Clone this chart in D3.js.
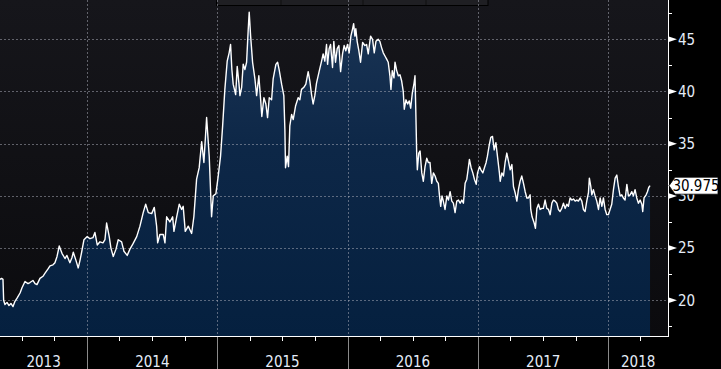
<!DOCTYPE html>
<meta charset="utf-8">
<style>
html, body { margin: 0; padding: 0; background: #000; }
#chart { display: block; }
text { font-family: "Liberation Sans Narrow", "Arial Narrow", "DejaVu Sans Condensed", sans-serif; }
</style>
<svg id="chart" width="721" height="369"></svg>
<script src="https://d3js.org/d3.v7.min.js"></script>
<script>
// ********** DATA **********
// [decimal year, price]
var priceSeries = [
  [2013.330,22.0],[2013.342,22.1],[2013.353,22.0],[2013.358,20.0],[2013.368,19.6],[2013.384,19.8],
  [2013.399,19.5],[2013.414,19.7],[2013.430,19.4],[2013.445,19.9],[2013.461,20.2],[2013.484,20.7],
  [2013.499,21.2],[2013.522,21.8],[2013.545,21.6],[2013.560,21.7],[2013.583,21.9],[2013.599,21.6],
  [2013.614,21.5],[2013.637,22.1],[2013.660,22.3],[2013.676,22.6],[2013.699,23.0],[2013.714,23.3],
  [2013.737,23.4],[2013.752,23.6],[2013.768,24.2],[2013.785,25.2],[2013.806,24.5],[2013.829,24.0],
  [2013.844,24.3],[2013.867,23.6],[2013.883,24.1],[2013.893,24.6],[2013.914,23.8],[2013.931,23.1],
  [2013.944,23.8],[2013.957,24.6],[2013.975,25.8],[2014.000,26.1],[2014.021,25.9],[2014.044,26.0],
  [2014.059,26.5],[2014.077,25.3],[2014.098,25.6],[2014.121,25.5],[2014.136,25.8],[2014.149,27.4],
  [2014.169,26.1],[2014.182,25.0],[2014.200,24.2],[2014.221,24.9],[2014.238,25.8],[2014.264,25.6],
  [2014.282,24.7],[2014.307,24.3],[2014.328,24.9],[2014.351,25.4],[2014.380,26.1],[2014.405,27.1],
  [2014.430,28.4],[2014.449,29.2],[2014.469,28.4],[2014.495,28.3],[2014.515,28.9],[2014.533,27.1],
  [2014.541,25.5],[2014.558,26.3],[2014.584,26.3],[2014.597,25.5],[2014.610,28.0],[2014.635,27.5],
  [2014.656,28.0],[2014.666,26.6],[2014.687,28.0],[2014.707,29.2],[2014.725,28.7],[2014.737,29.0],
  [2014.753,26.6],[2014.776,27.1],[2014.802,26.4],[2014.819,28.0],[2014.840,31.6],[2014.860,32.7],
  [2014.879,35.2],[2014.896,33.2],[2014.917,37.5],[2014.937,33.8],[2014.955,28.0],[2014.968,30.0],
  [2014.988,30.2],[2015.006,31.9],[2015.024,33.8],[2015.040,36.7],[2015.057,40.2],[2015.075,42.9],
  [2015.090,43.7],[2015.101,44.5],[2015.111,42.1],[2015.121,40.7],[2015.140,39.7],[2015.152,42.4],
  [2015.165,40.8],[2015.173,39.6],[2015.186,40.4],[2015.198,42.6],[2015.211,42.1],[2015.224,42.8],
  [2015.236,45.8],[2015.244,47.6],[2015.255,45.3],[2015.270,42.8],[2015.288,41.2],[2015.301,39.6],
  [2015.318,41.5],[2015.332,39.2],[2015.341,37.6],[2015.357,39.4],[2015.372,38.8],[2015.385,37.5],
  [2015.398,39.4],[2015.416,39.2],[2015.428,41.2],[2015.449,42.6],[2015.462,42.8],[2015.474,42.1],
  [2015.493,40.7],[2015.510,39.6],[2015.518,36.4],[2015.523,32.7],[2015.536,33.8],[2015.546,32.8],
  [2015.556,36.7],[2015.570,37.8],[2015.582,37.3],[2015.600,38.6],[2015.620,39.4],[2015.633,39.2],
  [2015.646,40.2],[2015.664,40.4],[2015.679,40.7],[2015.697,41.9],[2015.710,41.0],[2015.723,39.7],
  [2015.735,38.8],[2015.748,39.6],[2015.761,40.8],[2015.781,41.9],[2015.800,42.9],[2015.812,43.6],
  [2015.825,42.9],[2015.838,44.5],[2015.846,42.6],[2015.858,44.1],[2015.869,44.5],[2015.884,42.3],
  [2015.894,44.8],[2015.907,42.8],[2015.920,44.1],[2015.933,44.4],[2015.946,41.9],[2015.961,43.6],
  [2015.973,44.4],[2015.986,43.9],[2015.999,44.5],[2016.012,43.7],[2016.025,45.3],[2016.038,46.0],
  [2016.046,46.5],[2016.056,45.3],[2016.063,46.0],[2016.073,44.8],[2016.086,43.9],[2016.099,42.8],
  [2016.115,44.7],[2016.132,44.4],[2016.145,44.5],[2016.158,43.6],[2016.176,45.3],[2016.191,45.0],
  [2016.204,43.7],[2016.217,44.8],[2016.234,45.0],[2016.247,44.8],[2016.260,44.2],[2016.273,43.7],
  [2016.286,43.4],[2016.299,43.1],[2016.311,42.8],[2016.324,41.5],[2016.332,40.2],[2016.342,42.0],
  [2016.355,41.3],[2016.363,42.8],[2016.376,42.0],[2016.388,41.5],[2016.401,41.6],[2016.414,41.0],
  [2016.426,40.0],[2016.434,38.3],[2016.447,39.2],[2016.460,38.8],[2016.472,39.1],[2016.483,38.4],
  [2016.496,39.9],[2016.509,40.8],[2016.516,41.5],[2016.522,38.3],[2016.529,34.1],[2016.534,32.5],
  [2016.545,34.1],[2016.555,34.3],[2016.568,32.2],[2016.580,31.4],[2016.593,32.8],[2016.606,33.6],
  [2016.618,33.2],[2016.631,33.2],[2016.644,31.2],[2016.657,32.2],[2016.670,31.9],[2016.683,31.4],
  [2016.695,31.2],[2016.703,30.1],[2016.713,29.0],[2016.723,30.0],[2016.733,29.5],[2016.746,28.7],
  [2016.760,30.0],[2016.772,29.6],[2016.785,30.4],[2016.798,29.5],[2016.810,29.3],[2016.823,28.4],
  [2016.836,29.5],[2016.849,29.6],[2016.862,29.3],[2016.875,29.6],[2016.887,29.3],[2016.900,31.2],
  [2016.913,31.6],[2016.925,32.7],[2016.933,33.5],[2016.946,32.7],[2016.959,32.2],[2016.971,31.6],
  [2016.985,31.1],[2016.995,32.2],[2017.010,32.8],[2017.021,32.5],[2017.036,32.2],[2017.048,32.7],
  [2017.061,33.2],[2017.071,33.8],[2017.084,34.8],[2017.097,35.6],[2017.110,35.7],[2017.123,34.4],
  [2017.136,35.1],[2017.148,33.8],[2017.163,32.2],[2017.169,31.4],[2017.182,32.2],[2017.194,31.9],
  [2017.207,33.2],[2017.220,34.1],[2017.233,33.3],[2017.246,32.5],[2017.259,33.0],[2017.271,30.9],
  [2017.284,30.3],[2017.297,29.5],[2017.309,30.6],[2017.322,31.4],[2017.335,31.9],[2017.348,31.2],
  [2017.361,30.4],[2017.374,29.8],[2017.386,29.8],[2017.399,30.1],[2017.404,28.7],[2017.414,28.0],
  [2017.430,27.4],[2017.440,26.9],[2017.451,28.8],[2017.463,29.2],[2017.476,28.7],[2017.489,28.8],
  [2017.501,28.8],[2017.514,29.6],[2017.527,28.8],[2017.540,28.7],[2017.553,28.2],[2017.566,29.3],
  [2017.578,29.6],[2017.591,29.5],[2017.604,29.3],[2017.616,28.7],[2017.629,28.5],[2017.642,28.8],
  [2017.655,29.3],[2017.668,28.8],[2017.681,29.2],[2017.693,29.0],[2017.706,29.8],[2017.719,29.6],
  [2017.732,29.7],[2017.745,29.5],[2017.758,29.6],[2017.770,29.5],[2017.783,29.8],[2017.796,29.5],
  [2017.808,28.7],[2017.821,28.5],[2017.834,29.5],[2017.847,30.3],[2017.854,31.7],[2017.865,30.9],
  [2017.873,30.1],[2017.885,30.6],[2017.898,30.0],[2017.911,29.5],[2017.924,28.7],[2017.937,29.8],
  [2017.950,29.0],[2017.962,29.8],[2017.975,28.7],[2017.988,28.2],[2018.000,28.2],[2018.013,28.7],
  [2018.026,29.2],[2018.039,30.6],[2018.052,31.7],[2018.065,32.0],[2018.077,30.9],[2018.090,30.0],
  [2018.103,30.1],[2018.115,29.8],[2018.128,29.6],[2018.142,31.1],[2018.154,30.0],[2018.167,30.1],
  [2018.180,30.4],[2018.192,30.0],[2018.205,30.6],[2018.218,29.8],[2018.231,29.3],[2018.244,29.6],
  [2018.257,29.2],[2018.264,28.5],[2018.274,29.8],[2018.290,30.1],[2018.300,30.4],[2018.310,30.8],
  [2018.320,30.975]
];
var xDomain = [2013.330, 2018.458];   // visible time window
var yDomain = [16.58, 48.76];
var yTicks = [20, 25, 30, 35, 40, 45];
var yMinorTicks = [17.5, 22.5, 27.5, 32.5, 37.5, 42.5, 47.5];
var yearLabels = ["2013", "2014", "2015", "2016", "2017", "2018"];
var lastPrice = 30.975;

// ********** LAYOUT **********
var W = 721, H = 369,
  plotW = 668,   // right axis position
  plotH = 336;   // bottom axis position

function toDate(t) {
  var yr = Math.floor(t),
    a = Date.UTC(yr, 0, 1), b = Date.UTC(yr + 1, 0, 1);
  return new Date(a + (t - yr) * (b - a));
}

var x = d3.scaleUtc().domain(xDomain.map(toDate)).range([0, plotW]);
var y = d3.scaleLinear().domain(yDomain).range([plotH, 0]);

var svg = d3.select("#chart");
var defs = svg.append("defs");

var bgGrad = defs.append("linearGradient").attr("id", "bg")
  .attr("x1", 0).attr("y1", 0).attr("x2", 0).attr("y2", 1);
bgGrad.append("stop").attr("offset", "0%").attr("stop-color", "#16161b");
bgGrad.append("stop").attr("offset", "100%").attr("stop-color", "#0b0b0e");

var areaGrad = defs.append("linearGradient").attr("id", "areaFill")
  .attr("gradientUnits", "userSpaceOnUse")
  .attr("x1", 0).attr("y1", 0).attr("x2", 0).attr("y2", plotH);
areaGrad.append("stop").attr("offset", "0%").attr("stop-color", "#1b3556");
areaGrad.append("stop").attr("offset", "45%").attr("stop-color", "#0d2747");
areaGrad.append("stop").attr("offset", "100%").attr("stop-color", "#05203f");

svg.append("rect").attr("width", W).attr("height", H).attr("fill", "#000");
svg.append("rect").attr("width", plotW).attr("height", plotH).attr("fill", "url(#bg)");

// toolbar remnant at top
var bar = svg.append("g");
bar.append("rect").attr("x", 216.5).attr("y", -2).attr("width", 271.5).attr("height", 7.5)
  .attr("fill", "#1f1f23").attr("stroke", "#000");
[281, 363, 426].forEach(function (bx) {
  bar.append("line").attr("x1", bx).attr("x2", bx).attr("y1", 0).attr("y2", 5)
    .attr("stroke", "#111");
});

// ********** SERIES **********
var pts = priceSeries.map(function (d) { return { date: toDate(d[0]), value: d[1] }; });

var area = d3.area()
  .x(function (d) { return x(d.date); })
  .y0(plotH)
  .y1(function (d) { return y(d.value); });

var line = d3.line()
  .x(function (d) { return x(d.date); })
  .y(function (d) { return y(d.value); });

svg.append("path").datum(pts).attr("d", area).attr("fill", "url(#areaFill)");

// grid
var grid = svg.append("g")
  .attr("stroke", "rgba(175,178,190,0.5)")
  .attr("stroke-dasharray", "2,2")
  .attr("shape-rendering", "crispEdges");
grid.selectAll("line.h").data(yTicks).enter().append("line")
  .attr("x1", 0).attr("x2", plotW)
  .attr("y1", function (d) { return Math.round(y(d)) + 0.5; })
  .attr("y2", function (d) { return Math.round(y(d)) + 0.5; });
var yearStarts = d3.utcYear.range(x.domain()[0], x.domain()[1]);
grid.selectAll("line.v").data(yearStarts).enter().append("line")
  .attr("x1", function (d) { return Math.round(x(d)) + 0.5; })
  .attr("x2", function (d) { return Math.round(x(d)) + 0.5; })
  .attr("y1", 0).attr("y2", plotH);

svg.append("path").datum(pts).attr("d", line)
  .attr("fill", "none").attr("stroke", "#fff").attr("stroke-width", 1.4)
  .attr("stroke-linejoin", "round");

// ********** AXES **********
// right axis
var yAxis = svg.append("g");
yAxis.append("line").attr("x1", plotW + 0.5).attr("x2", plotW + 0.5)
  .attr("y1", 0).attr("y2", plotH + 1).attr("stroke", "#fff");
yAxis.selectAll("line.minor").data(yMinorTicks).enter().append("line")
  .attr("x1", plotW).attr("x2", plotW + 4)
  .attr("y1", function (d) { return Math.round(y(d)) + 0.5; })
  .attr("y2", function (d) { return Math.round(y(d)) + 0.5; })
  .attr("stroke", "#fff");
yAxis.selectAll("path.mark").data(yTicks).enter().append("path")
  .attr("d", function (d) {
    var ty = y(d);
    return "M" + plotW + "," + (ty - 3) + "L" + (plotW + 9) + "," + ty + "L" + plotW + "," + (ty + 3) + "Z";
  })
  .attr("fill", "#fff");
yAxis.selectAll("text").data(yTicks).enter().append("text")
  .attr("x", plotW + 10).attr("y", function (d) { return y(d); })
  .attr("dy", "0.36em")
  .attr("fill", "#e4ecf8").attr("font-size", "15px")
  .text(function (d) { return d; });

// last price marker
var ly = y(lastPrice);
var tag = svg.append("g");
tag.append("path")
  .attr("d", "M" + (plotW + 1) + "," + ly + "L" + (plotW + 7) + "," + (ly - 8.5) +
    "H" + 718 + "V" + (ly + 8.5) + "H" + (plotW + 7) + "Z")
  .attr("fill", "#fff").attr("stroke", "#000").attr("stroke-width", 0.8);
tag.append("text").attr("x", 696).attr("y", ly).attr("dy", "0.36em")
  .attr("text-anchor", "middle").attr("fill", "#000").attr("font-size", "15px")
  .text(d3.format(".3f")(lastPrice));

// bottom axis
var xAxis = svg.append("g");
xAxis.append("line").attr("x1", 0).attr("x2", plotW + 1)
  .attr("y1", plotH + 0.5).attr("y2", plotH + 0.5).attr("stroke", "#fff");
var quarters = d3.utcMonth.every(3).range(x.domain()[0], x.domain()[1]);
xAxis.selectAll("line.q").data(quarters).enter().append("line")
  .attr("x1", function (d) { return Math.round(x(d)) + 0.5; })
  .attr("x2", function (d) { return Math.round(x(d)) + 0.5; })
  .attr("y1", plotH).attr("y2", plotH + 5)
  .attr("stroke", "#fff");
xAxis.selectAll("line.yr").data(yearStarts).enter().append("line")
  .attr("x1", function (d) { return Math.round(x(d)) + 0.5; })
  .attr("x2", function (d) { return Math.round(x(d)) + 0.5; })
  .attr("y1", plotH + 1).attr("y2", H)
  .attr("stroke", "#8a8a8a");
xAxis.selectAll("text").data(yearLabels).enter().append("text")
  .attr("x", function (d) {
    var a = Math.max(x(toDate(+d)), 0), b = Math.min(x(toDate(+d + 1)), plotW);
    return (a + b) / 2;
  })
  .attr("y", 366.5)
  .attr("text-anchor", "middle")
  .attr("fill", "#e4ecf8").attr("font-size", "15px")
  .text(function (d) { return d; });
</script>
